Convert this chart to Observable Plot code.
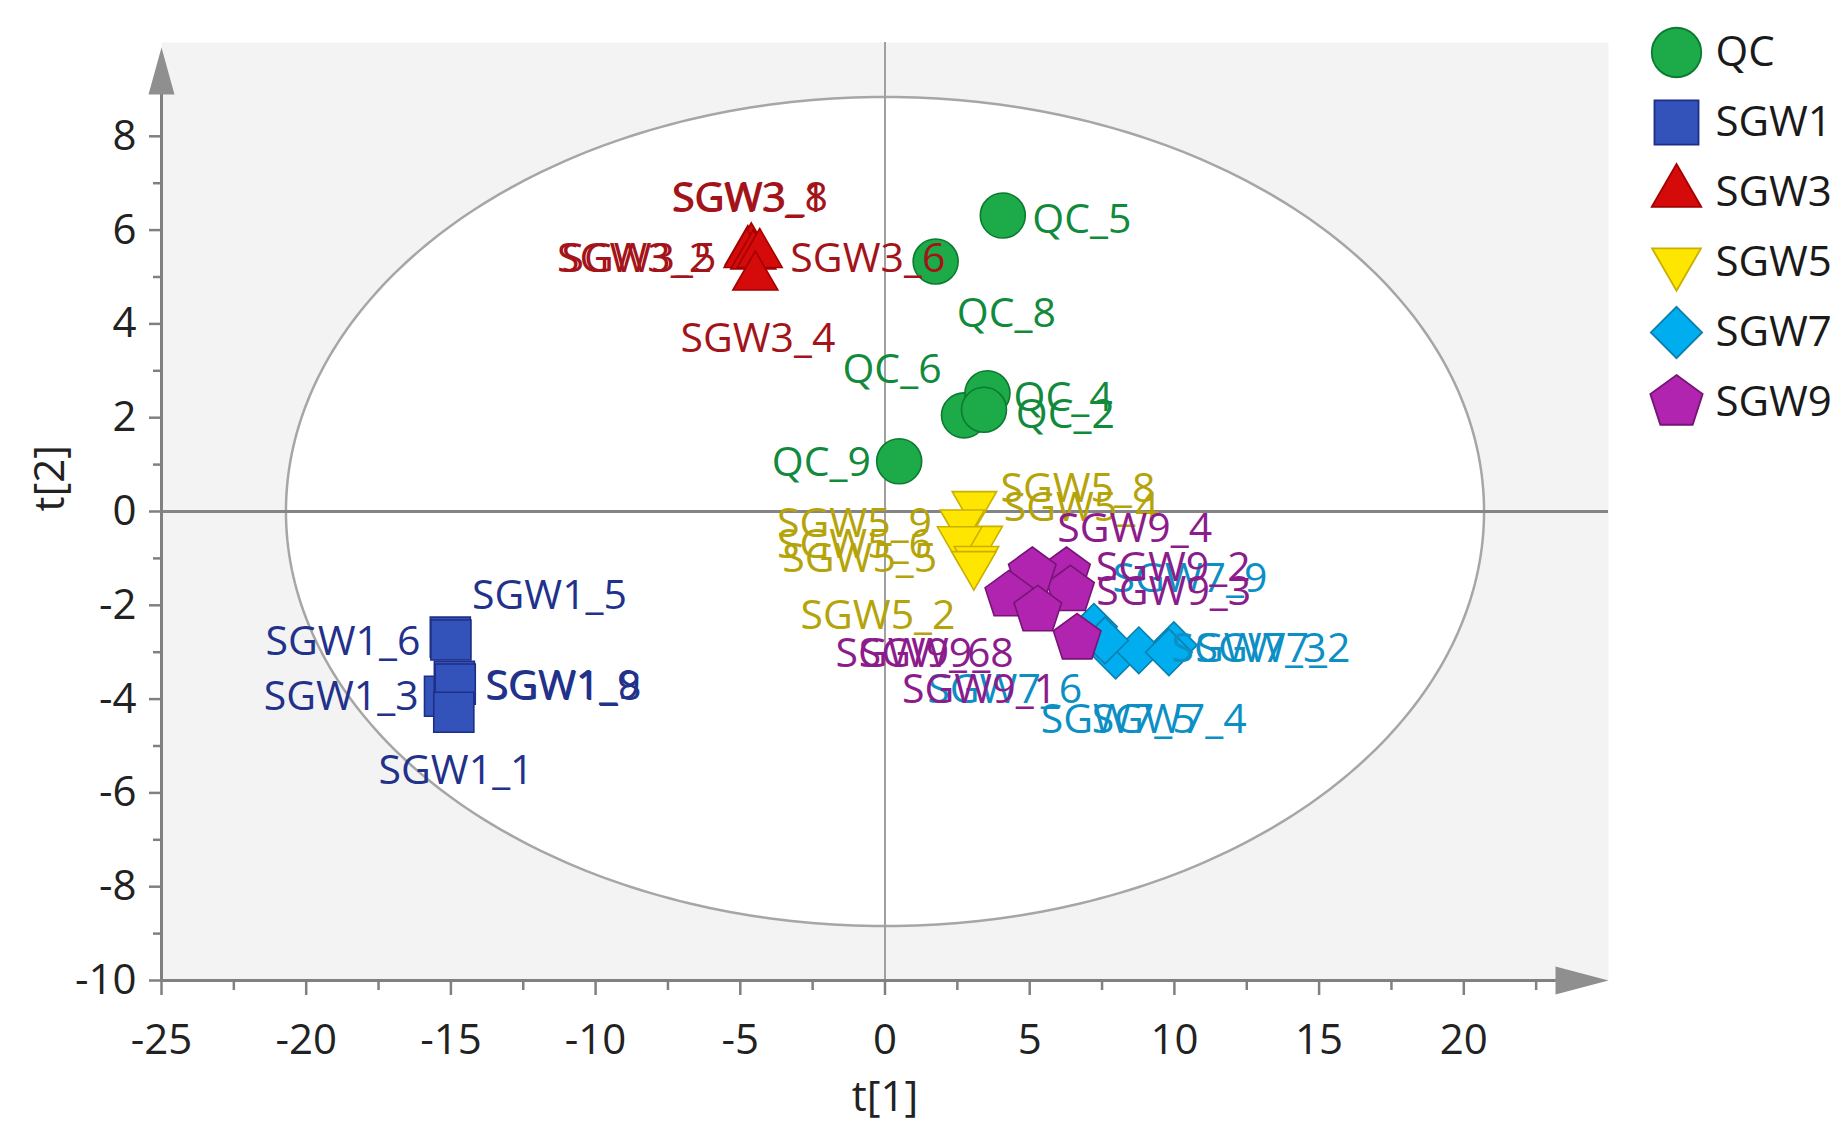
<!DOCTYPE html>
<html>
<head>
<meta charset="utf-8">
<script src="https://cdn.jsdelivr.net/npm/d3@7"></script>
<script src="https://cdn.jsdelivr.net/npm/@observablehq/plot@0.6"></script>
<style>
  body { margin: 0; background: #fff; }
  #wrap { position: relative; width: 1848px; height: 1146px; background: #fff; }
  #main { position: absolute; left: 0; top: 0; }
  #legend { position: absolute; left: 1628px; top: 0; }
</style>
</head>
<body>
<div id="wrap"><div id="main"></div><div id="legend"></div></div>
<script>
// ---------------- data ----------------
const groups = ["QC", "SGW1", "SGW3", "SGW5", "SGW7", "SGW9"];

const sampleNames = [
  "QC_5", "QC_8", "QC_6", "QC_4", "QC_2", "QC_9",
  "SGW1_5", "SGW1_6", "SGW1_3", "SGW1_9", "SGW1_8", "SGW1_1",
  "SGW3_1", "SGW3_8", "SGW3_2", "SGW3_5", "SGW3_6", "SGW3_4",
  "SGW5_8", "SGW5_4", "SGW5_9", "SGW5_6", "SGW5_5", "SGW5_2",
  "SGW7_9", "SGW7_3", "SGW7_2", "SGW7_6", "SGW7_5", "SGW7_4",
  "SGW9_4", "SGW9_2", "SGW9_3", "SGW9_6", "SGW9_8", "SGW9_1"
];
// score t[1]
const t1 = [
  4.07, 1.75, 2.73, 3.54, 3.42, 0.49,
  -15.02, -15.0, -15.22, -14.88, -14.85, -14.9,
  -4.74, -4.62, -4.78, -4.55, -4.33, -4.48,
  3.09, 3.29, 2.67, 2.58, 3.16, 3.07,
  7.22, 7.97, 9.98, 8.77, 9.81, 7.6,
  6.27, 6.41, 5.09, 4.28, 5.28, 6.64
];
// score t[2]
const t2 = [
  6.31, 5.33, 2.05, 2.52, 2.17, 1.07,
  -2.68, -2.74, -3.94, -3.62, -3.68, -4.28,
  5.54, 5.6, 5.48, 5.45, 5.48, 5.0,
  0.15, -0.59, -0.24, -0.6, -1.02, -1.13,
  -2.46, -3.07, -2.85, -2.96, -3.0, -2.75,
  -1.29, -1.68, -1.29, -1.79, -2.11, -2.71
];
// where each sample name is written (t[1], t[2] of its left end)
const labelT1 = [
  5.09, 2.48, -1.47, 4.44, 4.52, -3.91,
  -14.27, -21.41, -21.47, -13.81, -13.77, -17.5,
  -7.38, -7.33, -11.33, -11.18, -3.27, -7.07,
  3.99, 4.1, -3.73, -3.73, -3.55, -2.92,
  7.86, 9.9, 10.73, 1.46, 5.38, 7.14,
  5.95, 7.28, 7.3, -1.71, -0.91, 0.59
];
const labelT2 = [
  6.21, 4.21, 3.03, 2.42, 2.07, 1.04,
  -1.79, -2.78, -3.96, -3.71, -3.73, -5.52,
  6.66, 6.68, 5.38, 5.38, 5.38, 3.68,
  0.49, 0.07, -0.26, -0.72, -1.01, -2.22,
  -1.43, -2.93, -2.93, -3.81, -4.45, -4.45,
  -0.37, -1.21, -1.72, -3.03, -3.03, -3.81
];
const xMajor = [-25, -20, -15, -10, -5, 0, 5, 10, 15, 20];
const xMinor = [-22.5, -17.5, -12.5, -7.5, -2.5, 2.5, 7.5, 12.5, 17.5, 22.5];
const yMajor = [-10, -8, -6, -4, -2, 0, 2, 4, 6, 8];
const yMinor = [-9, -7, -5, -3, -1, 1, 3, 5, 7];
const xDomain = [-25, 25];
const yDomain = [-10, 10];
// Hotelling T2 ellipse semi-axes
const ellipseA = 20.7;
const ellipseB = 8.84;

// ---------------- styles ----------------
const pentagon = {
  draw(ctx, size) {
    const R = Math.sqrt(size / 2.3776);
    for (let i = 0; i < 5; i++) {
      const a = -Math.PI / 2 + i * 2 * Math.PI / 5;
      const px = R * Math.cos(a), py = R * Math.sin(a);
      if (i) ctx.lineTo(px, py); else ctx.moveTo(px, py);
    }
    ctx.closePath();
  }
};
const triangleDown = {
  draw(ctx, size) {
    const y = -Math.sqrt(size / (Math.sqrt(3) * 3));
    ctx.moveTo(0, -y * 2);
    ctx.lineTo(-Math.sqrt(3) * y, y);
    ctx.lineTo(Math.sqrt(3) * y, y);
    ctx.closePath();
  }
};
const arrowUp = { draw(ctx) { ctx.moveTo(0, 5); ctx.lineTo(13, 52); ctx.lineTo(-13, 52); ctx.closePath(); } };
const arrowRight = { draw(ctx) { ctx.moveTo(0, 0); ctx.lineTo(-53, -14); ctx.lineTo(-53, 14); ctx.closePath(); } };

const groupFill   = ["#1DAA48", "#3352BA", "#D50A0A", "#FFE600", "#00AEEF", "#B024B0"];
const groupStroke = ["#0C7A30", "#1D2F86", "#A30000", "#C9B000", "#0A7FB0", "#761476"];
const groupLabel  = ["#118A3C", "#22318A", "#A3141A", "#B5A30A", "#0C8FC4", "#8C1C8C"];
const groupSymbol = ["circle", "square", "triangle", triangleDown, "diamond2", pentagon];
const groupR      = [22.5, 22.6, 16.7, 16.5, 21, 21.75];
const FONT = "'Open Sans', 'Noto Sans', sans-serif";
const axisGray = "#808080";

// ---------------- build ----------------
const samples = sampleNames.map((name, i) => ({
  name, group: name.split("_")[0], t1: t1[i], t2: t2[i], lx: labelT1[i], ly: labelT2[i]
}));
const ellipse = d3.range(0, 361, 1).map(deg => ({
  x: ellipseA * Math.cos(deg * Math.PI / 180),
  y: ellipseB * Math.sin(deg * Math.PI / 180)
}));

const dotMarks = groups.map((g, i) => Plot.dot(samples.filter(d => d.group === g), {
  x: "t1", y: "t2", symbol: groupSymbol[i], r: groupR[i],
  fill: groupFill[i], stroke: groupStroke[i], strokeWidth: 1.6
}));
const labelMarks = groups.map((g, i) => Plot.text(samples.filter(d => d.group === g), {
  x: "lx", y: "ly", text: "name", fill: groupLabel[i],
  textAnchor: "start", lineAnchor: "middle", fontSize: 41
}));

const chart = Plot.plot({
  width: 1848, height: 1146,
  marginLeft: 161, marginRight: 240, marginTop: 42, marginBottom: 166,
  x: { domain: xDomain, label: null },
  y: { domain: yDomain, label: null },
  style: { fontFamily: FONT, background: "transparent", overflow: "visible" },
  marks: [
    Plot.frame({ fill: "#f3f3f3", stroke: null }),
    Plot.line(ellipse, { x: "x", y: "y", fill: "white", stroke: "#a6a6a6", strokeWidth: 2.5 }),
    Plot.ruleX([0], { stroke: "#a0a0a0", strokeWidth: 2 }),
    Plot.ruleY([0], { stroke: "#858585", strokeWidth: 3 }),
    Plot.ruleX([xDomain[0]], { y1: yDomain[0], y2: 8.9, stroke: axisGray, strokeWidth: 3 }),
    Plot.ruleY([yDomain[0]], { x1: xDomain[0], x2: 23.2, stroke: axisGray, strokeWidth: 3 }),
    Plot.dot([0], { x: () => xDomain[0], y: () => yDomain[1], symbol: arrowUp, fill: "#8f8f8f", stroke: null }),
    Plot.dot([0], { x: () => xDomain[1], y: () => yDomain[0], symbol: arrowRight, fill: "#8f8f8f", stroke: null }),
    Plot.axisY({ ticks: yMajor, tickSize: 12, tickPadding: 13, stroke: axisGray, strokeWidth: 2.5,
      fill: "#222", fontSize: 42, label: null, tickFormat: d => String(d) }),
    Plot.axisY({ ticks: yMinor, tickSize: 8, stroke: axisGray, strokeWidth: 2.5, label: null, tickFormat: () => "" }),
    Plot.axisX({ ticks: xMajor, tickSize: 15, tickPadding: 29, stroke: axisGray, strokeWidth: 2.5,
      fill: "#222", fontSize: 42, label: null, tickFormat: d => String(d) }),
    Plot.axisX({ ticks: xMinor, tickSize: 10, stroke: axisGray, strokeWidth: 2.5, label: null, tickFormat: () => "" }),
    Plot.text(["t[2]"], { text: d => d, frameAnchor: "left", dx: -111, rotate: -90, fontSize: 42, fill: "#222" }),
    Plot.text(["t[1]"], { text: d => d, frameAnchor: "bottom", dy: 117, lineAnchor: "middle", fontSize: 42, fill: "#222" }),
    ...dotMarks,
    ...labelMarks
  ]
});
document.getElementById("main").appendChild(chart);

// ---------------- legend ----------------
const legend = Plot.plot({
  width: 220, height: 440,
  marginLeft: 0, marginRight: 0, marginTop: 0, marginBottom: 0,
  x: { type: "point", domain: ["marker", "text"], range: [48, 87], padding: 0, axis: null },
  y: { type: "point", domain: groups, range: [50, 403], padding: 0, axis: null },
  style: { fontFamily: FONT, background: "transparent", overflow: "visible" },
  marks: [
    ...groups.map((g, i) => Plot.dot([g], {
      x: () => "marker", y: d => d, symbol: groupSymbol[i], r: groupR[i] * 1.1,
      fill: groupFill[i], stroke: groupStroke[i], strokeWidth: 1.8
    })),
    Plot.text(groups, { x: () => "text", y: d => d, text: d => d, textAnchor: "start",
      lineAnchor: "middle", fontSize: 42, fill: "#1a1a1a" })
  ]
});
document.getElementById("legend").appendChild(legend);
</script>
</body>
</html>
